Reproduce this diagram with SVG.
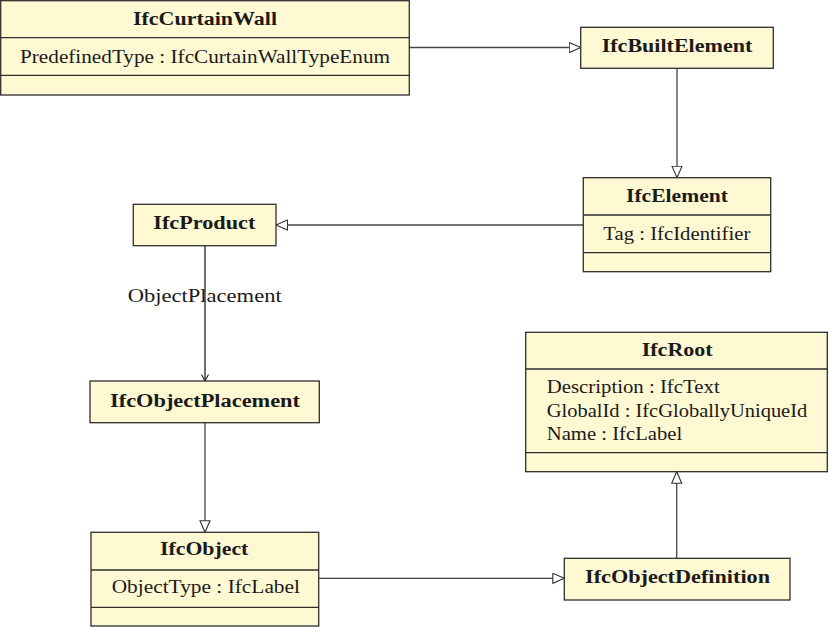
<svg xmlns="http://www.w3.org/2000/svg" width="829" height="627" viewBox="0 0 829 627">
<style>
.box{fill:#fef9d2;stroke:#2e2e2e;stroke-width:1.3}
.div{stroke:#2e2e2e;stroke-width:1.3}
text{font-family:"Liberation Serif","Times New Roman",serif;font-size:18px;fill:#1a1a1a}
.t{font-weight:bold}
.edge{fill:none;stroke:#444;stroke-width:1.3}
</style>
<defs>
<marker id="tri" markerUnits="userSpaceOnUse" markerWidth="14" markerHeight="12" refX="12" refY="5.5" orient="auto">
<path d="M0.5,0.5 L12,5.5 L0.5,10.5 Z" fill="#fff" stroke="#333" stroke-width="1.1"/>
</marker>
<marker id="vee" markerUnits="userSpaceOnUse" markerWidth="10" markerHeight="10" refX="7" refY="4" orient="auto">
<path d="M0.5,0.5 L7,4 L0.5,7.5" fill="none" stroke="#222" stroke-width="1.1"/>
</marker>
</defs>
<g id="connectors">
<line class="edge" x1="409" y1="47.5" x2="580.7" y2="47.5" marker-end="url(#tri)"/>
<line class="edge" x1="677" y1="68.3" x2="677" y2="177.7" marker-end="url(#tri)"/>
<line class="edge" x1="583.3" y1="225" x2="276" y2="225" marker-end="url(#tri)"/>
<line class="edge" x1="205" y1="245.7" x2="205" y2="381" stroke="#222" marker-end="url(#vee)" style="stroke:#222"/>
<text x="127.7" y="302" textLength="154" lengthAdjust="spacingAndGlyphs">ObjectPlacement</text>
<line class="edge" x1="205" y1="422.7" x2="205" y2="532.3" marker-end="url(#tri)"/>
<line class="edge" x1="318.7" y1="578.3" x2="564.3" y2="578.3" marker-end="url(#tri)"/>
<line class="edge" x1="676.7" y1="558.3" x2="676.7" y2="471.7" marker-end="url(#tri)"/>
</g>
<g id="IfcCurtainWall">
<rect class="box" x="0.7" y="0.7" width="408.6" height="94.3"/>
<line class="div" x1="0.7" y1="37.7" x2="409.3" y2="37.7"/>
<line class="div" x1="0.7" y1="75.3" x2="409.3" y2="75.3"/>
<text class="t" x="133" y="25" textLength="144" lengthAdjust="spacingAndGlyphs">IfcCurtainWall</text>
<text x="20" y="63" textLength="370" lengthAdjust="spacingAndGlyphs">PredefinedType : IfcCurtainWallTypeEnum</text>
</g>
<g id="IfcBuiltElement">
<rect class="box" x="580.7" y="27.3" width="192.6" height="41"/>
<text class="t" x="601.7" y="52" textLength="150.6" lengthAdjust="spacingAndGlyphs">IfcBuiltElement</text>
</g>
<g id="IfcElement">
<rect class="box" x="583.3" y="177.7" width="187.4" height="94"/>
<line class="div" x1="583.3" y1="215" x2="770.7" y2="215"/>
<line class="div" x1="583.3" y1="252.7" x2="770.7" y2="252.7"/>
<text class="t" x="626" y="201.7" textLength="102" lengthAdjust="spacingAndGlyphs">IfcElement</text>
<text x="603.3" y="240" textLength="147" lengthAdjust="spacingAndGlyphs">Tag : IfcIdentifier</text>
</g>
<g id="IfcProduct">
<rect class="box" x="133.3" y="204.3" width="142.7" height="41.4"/>
<text class="t" x="153.3" y="229" textLength="102" lengthAdjust="spacingAndGlyphs">IfcProduct</text>
</g>
<g id="IfcObjectPlacement">
<rect class="box" x="90" y="381" width="229.3" height="41.7"/>
<text class="t" x="110" y="406.7" textLength="190" lengthAdjust="spacingAndGlyphs">IfcObjectPlacement</text>
</g>
<g id="IfcRoot">
<rect class="box" x="525.7" y="332.3" width="301.6" height="139.4"/>
<line class="div" x1="525.7" y1="369" x2="827.3" y2="369"/>
<line class="div" x1="525.7" y1="452.7" x2="827.3" y2="452.7"/>
<text class="t" x="641.7" y="355.7" textLength="71" lengthAdjust="spacingAndGlyphs">IfcRoot</text>
<text x="546.7" y="393" textLength="173" lengthAdjust="spacingAndGlyphs">Description : IfcText</text>
<text x="546.7" y="416.7" textLength="260.6" lengthAdjust="spacingAndGlyphs">GlobalId : IfcGloballyUniqueId</text>
<text x="546.7" y="440" textLength="135.6" lengthAdjust="spacingAndGlyphs">Name : IfcLabel</text>
</g>
<g id="IfcObject">
<rect class="box" x="91" y="532.3" width="227.7" height="93.7"/>
<line class="div" x1="91" y1="570" x2="318.7" y2="570"/>
<line class="div" x1="91" y1="607.3" x2="318.7" y2="607.3"/>
<text class="t" x="160" y="555" textLength="88.3" lengthAdjust="spacingAndGlyphs">IfcObject</text>
<text x="111.7" y="593" textLength="188.3" lengthAdjust="spacingAndGlyphs">ObjectType : IfcLabel</text>
</g>
<g id="IfcObjectDefinition">
<rect class="box" x="564.3" y="558.3" width="225.7" height="41.7"/>
<text class="t" x="585" y="583.3" textLength="185" lengthAdjust="spacingAndGlyphs">IfcObjectDefinition</text>
</g>
</svg>
